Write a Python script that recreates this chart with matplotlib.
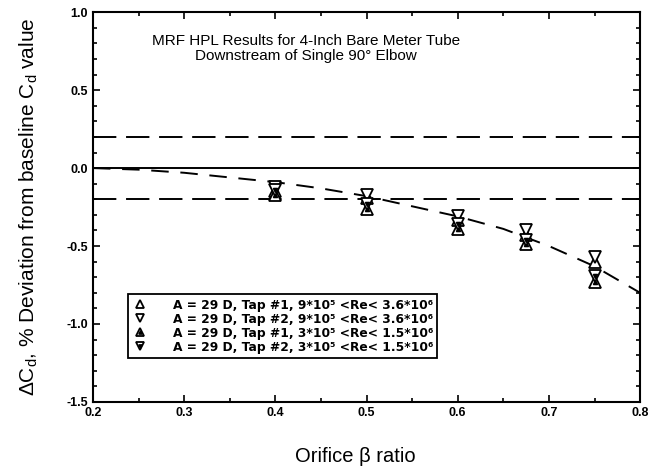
import matplotlib
matplotlib.use('Agg')
import matplotlib.pyplot as plt
from matplotlib.legend_handler import HandlerTuple
from matplotlib.ticker import MultipleLocator

plt.rcParams['font.family'] = ['Liberation Sans', 'DejaVu Sans']
plt.rcParams['mathtext.fontset'] = 'custom'
plt.rcParams['mathtext.rm'] = 'Liberation Sans'
plt.rcParams['mathtext.it'] = 'Liberation Sans:italic'

# ── data ────────────────────────────────────────────────────────────────────
beta = [0.40, 0.50, 0.60, 0.675, 0.75]
tap1_high = [-0.15, -0.19, -0.33, -0.43, -0.60]   # up triangles
tap2_high = [-0.12, -0.17, -0.31, -0.40, -0.57]   # down triangles
tap1_low = [-0.17, -0.26, -0.39, -0.49, -0.73]    # up triangles, marked
tap2_low = [-0.14, -0.23, -0.36, -0.46, -0.69]    # down triangles, marked

fit_beta = [0.20, 0.25, 0.30, 0.35, 0.40, 0.45, 0.50, 0.55, 0.60, 0.65, 0.70, 0.75, 0.80]
fit_dcd = [0.0, -0.01, -0.03, -0.06, -0.09, -0.13, -0.18, -0.245, -0.31, -0.39, -0.50, -0.63, -0.80]

band = 0.2
labels = [
    'A = 29 D, Tap #1, 9*10⁵ <Re< 3.6*10⁶',
    'A = 29 D, Tap #2, 9*10⁵ <Re< 3.6*10⁶',
    'A = 29 D, Tap #1, 3*10⁵ <Re< 1.5*10⁶',
    'A = 29 D, Tap #2, 3*10⁵ <Re< 1.5*10⁶',
]

fig = plt.figure(figsize=(6.64, 4.69), dpi=100)
ax = fig.add_axes([0.140, 0.143, 0.824, 0.831])

ax.axhline(0.0, color='black', lw=1.4)
ax.axhline(band, color='black', lw=1.4, dashes=(12, 5))
ax.axhline(-band, color='black', lw=1.4, dashes=(12, 5))
ax.plot(fit_beta, fit_dcd, color='black', lw=1.4, dashes=(9, 6))

mk = dict(ms=8, mfc='white', mec='black', mew=1.3, ls='none')
h1, = ax.plot(beta, tap1_high, marker='^', **mk)
h2, = ax.plot(beta, tap2_high, marker='v', **mk)
h3, = ax.plot(beta, tap1_low, marker='^', **mk)
h3b, = ax.plot(beta, tap1_low, marker='^', ms=3, color='black', ls='none')
h4, = ax.plot(beta, tap2_low, marker='v', **mk)
h4b, = ax.plot(beta, tap2_low, marker='v', ms=3, color='black', ls='none')

leg = ax.legend([h1, h2, (h3, h3b), (h4, h4b)], labels,
                handler_map={tuple: HandlerTuple(ndivide=1, pad=0)},
                loc='lower left', bbox_to_anchor=(0.064, 0.113),
                borderaxespad=0, labelspacing=0.08, markerscale=0.8,
                prop={'family': 'DejaVu Sans', 'size': 8.8, 'weight': 'bold'},
                handlelength=1.2, handletextpad=2.1, borderpad=0.35,
                fancybox=False, framealpha=1, edgecolor='black')
leg.get_frame().set_linewidth(1.3)

ax.text(0.39, 0.945, 'MRF HPL Results for 4-Inch Bare Meter Tube\nDownstream of Single 90° Elbow',
        transform=ax.transAxes, ha='center', va='top', fontsize=11,
        linespacing=1.1)

ax.set_xlim(0.2, 0.8)
ax.set_ylim(-1.5, 1.0)
ax.xaxis.set_major_locator(MultipleLocator(0.1))
ax.xaxis.set_minor_locator(MultipleLocator(0.05))
ax.yaxis.set_major_locator(MultipleLocator(0.5))
ax.yaxis.set_minor_locator(MultipleLocator(0.1))
ax.xaxis.set_major_formatter(plt.FuncFormatter(lambda v, p: f'{v:.1f}'))
ax.yaxis.set_major_formatter(plt.FuncFormatter(lambda v, p: f'{v:.1f}'))
ax.tick_params(which='both', direction='in', top=True, right=True, width=1.2)
ax.tick_params(which='major', length=5, labelsize=9)
ax.tick_params(which='minor', length=3)
for lab in ax.get_xticklabels() + ax.get_yticklabels():
    lab.set_fontweight('bold')
for s in ax.spines.values():
    s.set_linewidth(1.5)

ax.set_xlabel('Orifice β ratio', fontsize=14.5)
ax.xaxis.set_label_coords(0.479, -0.115)
ax.set_ylabel(r'ΔC$_{\rm d}$, % Deviation from baseline C$_{\rm d}$ value',
              fontsize=15, labelpad=19)

fig.savefig('out.png', dpi=100)
